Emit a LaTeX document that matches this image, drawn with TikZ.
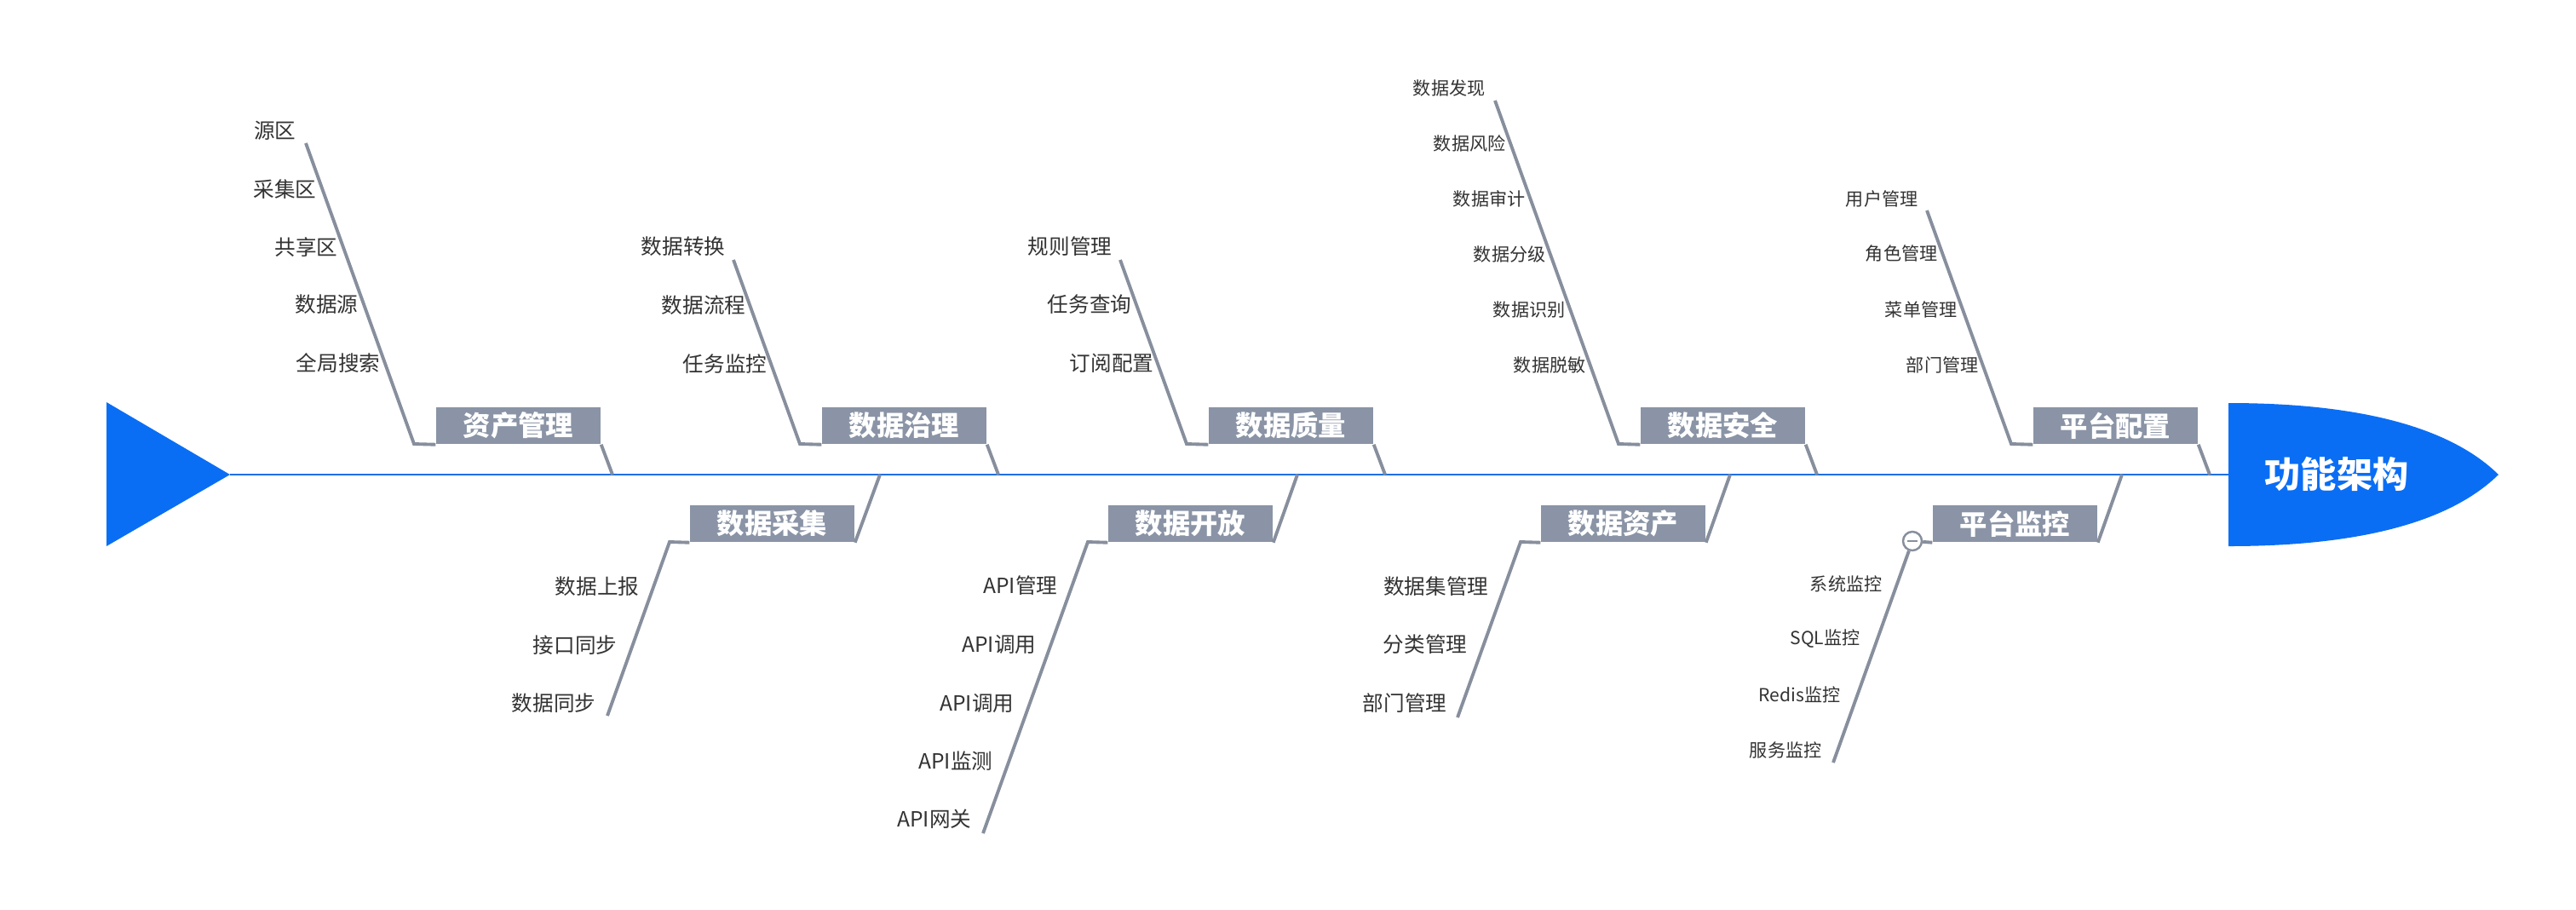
\documentclass[tikz,border=0pt]{standalone}
\usepackage{fontspec}
\setmainfont{Noto Sans CJK SC}
\usetikzlibrary{positioning}
\definecolor{bonegray}{HTML}{878F9D}
\definecolor{boxgray}{HTML}{8A94A6}
\definecolor{fishblue}{HTML}{0A6EF5}
\definecolor{spineblue}{HTML}{1F6FE3}
\definecolor{leaftext}{HTML}{333333}

\begin{document}
\begin{tikzpicture}[
  box/.style={fill=boxgray,text=white,font=\fontsize{9.2}{10}\selectfont\bfseries,minimum width=1.93cm,minimum height=0.43cm,inner sep=0pt},
  leaf/.style={anchor=east,text=leaftext,font=\fontsize{7}{8}\selectfont,inner sep=0pt},
  sleaf/.style={leaf,font=\fontsize{6}{7}\selectfont},
  bone/.style={draw=bonegray,line width=1.1pt}]
\useasboundingbox (0,0) rectangle (30.24,-10.67);
\fill[white] (0,0) rectangle (30.24,-10.67);
% tail and head
\coordinate (t0) at (1.25,-4.72);
\coordinate (t1) at (2.70,-5.57);
\coordinate (t2) at (1.25,-6.41);
\fill[fishblue] (t0)--(t1)--(t2)--cycle;
\coordinate (h0) at (26.16,-4.73);
\coordinate (h1) at (29.33,-5.57);
\coordinate (h2) at (26.16,-6.41);
\coordinate (sp) at (26.16,-5.57);
\fill[fishblue] (h0) .. controls (27.80,-4.73) and (28.80,-5.05) .. (h1) .. controls (28.80,-6.09) and (27.80,-6.41) .. (h2) -- cycle;
\node[text=white,font=\fontsize{12}{14}\selectfont\bfseries] (head) at (27.43,-5.56) {功能架构};
\draw[spineblue,line width=.8pt] (t1)--(sp);
% upper bones
\node[box] (asset) at (6.085,-4.995) {资产管理};
\node[box] (govern) at (10.615,-4.995) {数据治理};
\node[box] (quality) at (15.155,-4.995) {数据质量};
\node[box] (security) at (20.225,-4.995) {数据安全};
\node[box] (config) at (24.835,-4.995) {平台配置};
\coordinate (asset-s) at (7.19,-5.57);
\coordinate (govern-s) at (11.72,-5.57);
\coordinate (quality-s) at (16.26,-5.57);
\coordinate (security-s) at (21.33,-5.57);
\coordinate (config-s) at (25.94,-5.57);
\draw[bone] (asset.south east)--(asset-s);
\draw[bone] (govern.south east)--(govern-s);
\draw[bone] (quality.south east)--(quality-s);
\draw[bone] (security.south east)--(security-s);
\draw[bone] (config.south east)--(config-s);
\coordinate (asset-b) at (4.86,-5.21);
\coordinate (asset-t) at (3.59,-1.68);
\coordinate (govern-b) at (9.39,-5.21);
\coordinate (govern-t) at (8.61,-3.05);
\coordinate (quality-b) at (13.93,-5.21);
\coordinate (quality-t) at (13.15,-3.05);
\coordinate (security-b) at (19.00,-5.21);
\coordinate (security-t) at (17.55,-1.18);
\coordinate (config-b) at (23.61,-5.21);
\coordinate (config-t) at (22.62,-2.47);
\draw[bone] (asset.south west)--(asset-b)--(asset-t);
\draw[bone] (govern.south west)--(govern-b)--(govern-t);
\draw[bone] (quality.south west)--(quality-b)--(quality-t);
\draw[bone] (security.south west)--(security-b)--(security-t);
\draw[bone] (config.south west)--(config-b)--(config-t);
\node[leaf] (a1) at (3.48,-1.53) {源区};
\node[leaf] (a2) at (3.72,-2.22) {采集区};
\node[leaf] (a3) at (3.97,-2.90) {共享区};
\node[leaf] (a4) at (4.21,-3.57) {数据源};
\node[leaf] (a5) at (4.47,-4.26) {全局搜索};
\node[leaf] (g1) at (8.52,-2.89) {数据转换};
\node[leaf] (g2) at (8.76,-3.58) {数据流程};
\node[leaf] (g3) at (9.01,-4.27) {任务监控};
\node[leaf] (q1) at (13.06,-2.89) {规则管理};
\node[leaf] (q2) at (13.29,-3.57) {任务查询};
\node[leaf] (q3) at (13.55,-4.26) {订阅配置};
\node[sleaf] (s1) at (17.44,-1.03) {数据发现};
\node[sleaf] (s2) at (17.68,-1.68) {数据风险};
\node[sleaf] (s3) at (17.91,-2.33) {数据审计};
\node[sleaf] (s4) at (18.15,-2.98) {数据分级};
\node[sleaf] (s5) at (18.38,-3.63) {数据识别};
\node[sleaf] (s6) at (18.62,-4.28) {数据脱敏};
\node[sleaf] (c1) at (22.52,-2.33) {用户管理};
\node[sleaf] (c2) at (22.75,-2.98) {角色管理};
\node[sleaf] (c3) at (22.98,-3.63) {菜单管理};
\node[sleaf] (c4) at (23.23,-4.28) {部门管理};
% lower bones
\node[box] (collect) at (9.065,-6.145) {数据采集};
\node[box] (open) at (13.975,-6.145) {数据开放};
\node[box] (dassets) at (19.055,-6.145) {数据资产};
\node[box] (monitor) at (23.655,-6.145) {平台监控};
\coordinate (collect-s) at (10.33,-5.57);
\coordinate (open-s) at (15.23,-5.57);
\coordinate (dassets-s) at (20.31,-5.57);
\coordinate (monitor-s) at (24.91,-5.57);
\draw[bone] (collect.south east)--(collect-s);
\draw[bone] (open.south east)--(open-s);
\draw[bone] (dassets.south east)--(dassets-s);
\draw[bone] (monitor.south east)--(monitor-s);
\coordinate (collect-b) at (7.86,-6.36);
\coordinate (collect-t) at (7.13,-8.40);
\coordinate (open-b) at (12.77,-6.36);
\coordinate (open-t) at (11.54,-9.78);
\coordinate (dassets-b) at (17.85,-6.36);
\coordinate (dassets-t) at (17.11,-8.42);
\coordinate (monitor-t) at (21.52,-8.95);
\draw[bone] (collect.south west)--(collect-b)--(collect-t);
\draw[bone] (open.south west)--(open-b)--(open-t);
\draw[bone] (dassets.south west)--(dassets-b)--(dassets-t);
\node[circle,draw=bonegray,fill=white,line width=.7pt,minimum size=.22cm,inner sep=0pt] (fold) at (22.45,-6.35) {};
\draw[bone] (fold)--(monitor.south west);
\draw[bone] (fold)--(monitor-t);
\draw[bonegray,line width=.7pt] ([xshift=-.06cm]fold.center)--([xshift=.06cm]fold.center);
\node[leaf] (k1) at (7.51,-6.88) {数据上报};
\node[leaf] (k2) at (7.25,-7.57) {接口同步};
\node[leaf] (k3) at (7.00,-8.25) {数据同步};
\node[leaf] (o1) at (12.42,-6.87) {API管理};
\node[leaf] (o2) at (12.17,-7.56) {API调用};
\node[leaf] (o3) at (11.91,-8.25) {API调用};
\node[leaf] (o4) at (11.66,-8.93) {API监测};
\node[leaf] (o5) at (11.41,-9.61) {API网关};
\node[leaf] (d1) at (17.48,-6.88) {数据集管理};
\node[leaf] (d2) at (17.23,-7.56) {分类管理};
\node[leaf] (d3) at (16.99,-8.25) {部门管理};
\node[sleaf] (m1) at (22.10,-6.85) {系统监控};
\node[sleaf] (m2) at (21.84,-7.50) {SQL监控};
\node[sleaf] (m3) at (21.61,-8.15) {Redis监控};
\node[sleaf] (m4) at (21.39,-8.80) {服务监控};
\end{tikzpicture}
\end{document}
